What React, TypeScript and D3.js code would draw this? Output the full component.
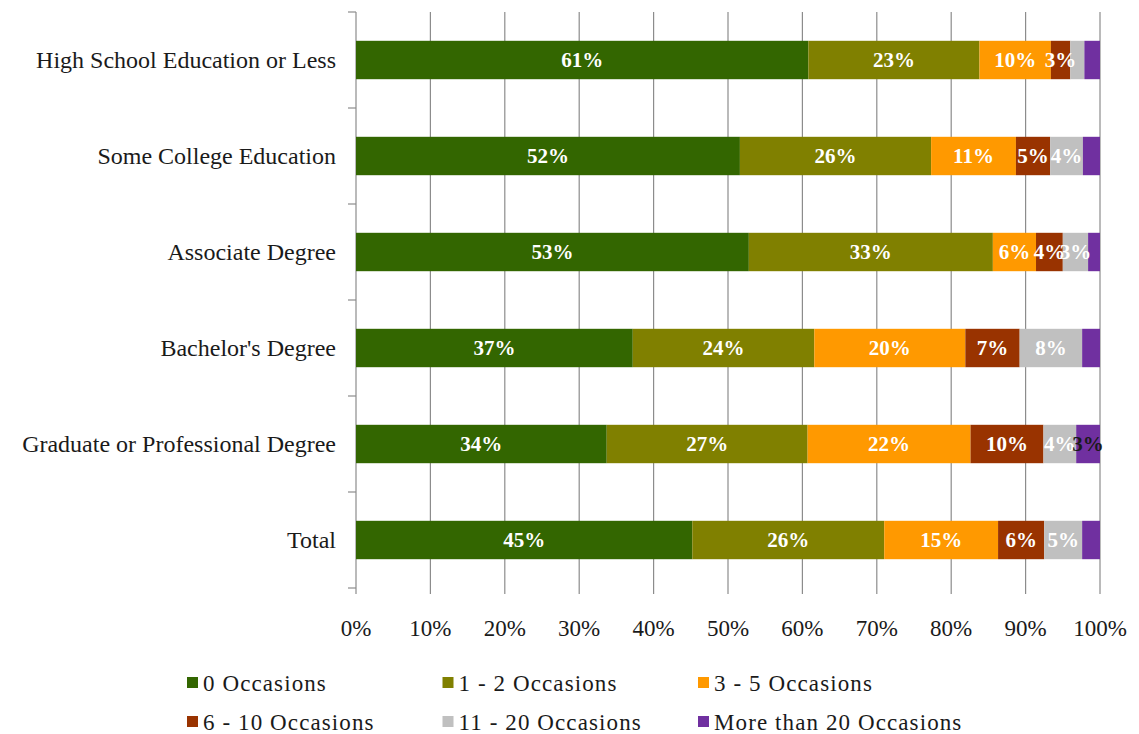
import React from "react";
import * as d3 from "d3";

const categories = [
  "High School Education or Less",
  "Some College Education",
  "Associate Degree",
  "Bachelor's Degree",
  "Graduate or Professional Degree",
  "Total",
];
const seriesNames = [
  "0 Occasions",
  "1 - 2 Occasions",
  "3 - 5 Occasions",
  "6 - 10 Occasions",
  "11 - 20 Occasions",
  "More than 20 Occasions",
];
const zeroOcc = [60.8, 51.6, 52.8, 37.2, 33.7, 45.2];
const oneTwo = [23.0, 25.7, 32.8, 24.4, 27.0, 25.8];
const threeFive = [9.6, 11.4, 5.8, 20.3, 21.9, 15.3];
const sixTen = [2.6, 4.6, 3.6, 7.3, 9.8, 6.2];
const elevenTwenty = [1.9, 4.4, 3.4, 8.4, 4.4, 5.1];
const moreTwenty = [2.1, 2.3, 1.6, 2.4, 3.2, 2.4];
const colors = ["#336600", "#808000", "#FF9900", "#993300", "#C0C0C0", "#7030A0"];
const labelColors = ["#fff", "#fff", "#fff", "#fff", "#fff", "#1a1a1a"];
const xTicks = [0, 10, 20, 30, 40, 50, 60, 70, 80, 90, 100];

const FONT = "'Liberation Serif', 'DejaVu Serif', serif";

export default function App() {
  const W = 1139;
  const H = 734;
  const top = 12;
  const bottom = 588;
  const x = d3.scaleLinear().domain([0, 100]).range([356, 1100]);
  const y = d3.scaleBand<string>().domain(categories).range([top, bottom]).paddingInner(0.6).paddingOuter(0.3);
  const series = [zeroOcc, oneTwo, threeFive, sixTen, elevenTwenty, moreTwenty];
  const rows = categories.map((c, i) => {
    const obj: any = { cat: c };
    seriesNames.forEach((s, j) => (obj[s] = series[j][i]));
    return obj;
  });
  const stacked = d3.stack<any>().keys(seriesNames)(rows);
  const step = y.step();
  const catBounds = d3.range(categories.length + 1).map((i) => top + i * step);

  return (
    <svg width={W} height={H} style={{ position: "absolute", left: 0, top: 0 }} fontFamily={FONT}>
      <rect width={W} height={H} fill="#fff" />
      {xTicks.map((t) => (
        <line key={t} x1={x(t)} x2={x(t)} y1={top} y2={bottom + 6} stroke="#8c8c8c" strokeWidth={1.2} />
      ))}
      {catBounds.map((b, i) => (
        <line key={i} x1={348} x2={356} y1={b} y2={b} stroke="#8c8c8c" strokeWidth={1.2} />
      ))}
      {stacked.map((layer, si) => (
        <g key={si}>
          {layer.map((d, ci) => {
            const yy = y(categories[ci])!;
            const x0 = x(d[0]);
            const x1 = x(d[1]);
            return (
              <rect key={ci} x={x0} y={yy} width={x1 - x0} height={y.bandwidth()} fill={colors[si]} />
            );
          })}
        </g>
      ))}
      {stacked.map((layer, si) => (
        <g key={"l" + si}>
          {layer.map((d, ci) => {
            const v = series[si][ci];
            const yy = y(categories[ci])!;
            const x0 = x(d[0]);
            const x1 = x(d[1]);
            if (Math.round(v) < 3) return null;
            return (
              <text
                key={ci}
                x={(x0 + x1) / 2}
                y={yy + y.bandwidth() / 2}
                dy="0.35em"
                textAnchor="middle"
                fontSize={21}
                fontWeight="bold"
                fill={labelColors[si]}
              >
                {Math.round(v)}%
              </text>
            );
          })}
        </g>
      ))}
      {categories.map((c) => (
        <text key={c} x={336} y={y(c)! + y.bandwidth() / 2} dy="0.35em" textAnchor="end" fontSize={24} fill="#1a1a1a">
          {c}
        </text>
      ))}
      {xTicks.map((t) => (
        <text key={t} x={x(t)} y={628} dy="0.35em" textAnchor="middle" fontSize={23} fill="#1a1a1a">
          {t}%
        </text>
      ))}
      {seriesNames.map((s, i) => {
        const col = i % 3;
        const row = Math.floor(i / 3);
        const lx = 187 + col * 255.5;
        const ly = 683 + row * 39;
        return (
          <g key={s}>
            <rect x={lx} y={ly - 6} width={11} height={11} fill={colors[i]} />
            <text x={lx + 16} y={ly} dy="0.35em" fontSize={23} letterSpacing={1.1} fill="#1a1a1a">
              {s}
            </text>
          </g>
        );
      })}
    </svg>
  );
}
